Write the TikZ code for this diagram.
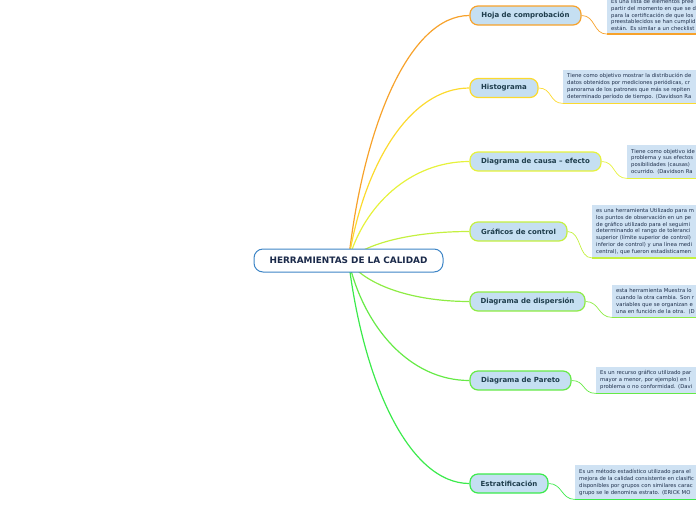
\documentclass[tikz,border=0pt]{standalone}
\usepackage{fontspec}
\setmainfont{DejaVu Sans}
\usetikzlibrary{backgrounds}
\definecolor{rootc}{HTML}{3D85C6}
\definecolor{navy}{HTML}{1B2A4A}
\definecolor{bfill}{HTML}{C5DFF2}
\definecolor{btext}{HTML}{1E3D4C}
\definecolor{dfill}{HTML}{CFE2F3}
\definecolor{dtext}{HTML}{1E2E4A}
\definecolor{c1}{HTML}{F7A22B}
\definecolor{c2}{HTML}{FCDA2E}
\definecolor{c3}{HTML}{E6F23C}
\definecolor{c4}{HTML}{C4F040}
\definecolor{c5}{HTML}{8EEC44}
\definecolor{c6}{HTML}{66EA46}
\definecolor{c7}{HTML}{3CEA4C}
\tikzset{
  rootbox/.style={draw=rootc, line width=1pt, fill=white, rounded corners=9pt,
    minimum width=189pt, minimum height=23pt, inner sep=0pt,
    font=\bfseries\fontsize{8.9}{10}\selectfont, text=navy},
  branch/.style={draw=#1, fill=bfill, line width=1.2pt, rounded corners=8pt,
    minimum height=19pt, inner sep=0pt,
    font=\bfseries\fontsize{7}{8}\selectfont, text=btext},
  desc/.style={fill=dfill, anchor=north west, align=left, text width=190pt,
    inner xsep=4pt, inner ysep=3pt, font=\fontsize{5.3}{6.9}\selectfont, text=dtext},
  mainedge/.style={draw=#1, line width=1.2pt},
  subedge/.style={draw=#1, line width=0.7pt},
  uline/.style={draw=#1, line width=1.6pt},
}
\begin{document}
\begin{tikzpicture}[x=1pt, y=-1pt]
\useasboundingbox (0,0) rectangle (696,520);
\clip (0,0) rectangle (696,520);

\node[rootbox] (root) at (348.5,260.5) {HERRAMIENTAS DE LA CALIDAD};

\node[branch=c1, minimum width=111pt] (b1) at (525.5,15.5) {Hoja de comprobación};
\node[branch=c2, minimum width=68pt] (b2) at (504,88) {Histograma};
\node[branch=c3, minimum width=131pt] (b3) at (535.5,161.5) {Diagrama de causa – efecto};
\node[branch=c4, minimum width=97pt] (b4) at (518.5,231.5) {Gráficos de control};
\node[branch=c5, minimum width=115pt] (b5) at (527.5,301.5) {Diagrama de dispersión};
\node[branch=c6, minimum width=101pt] (b6) at (520.5,380.5) {Diagrama de Pareto};
\node[branch=c7, minimum width=78pt] (b7) at (509,483.5) {Estratificación};

\node[desc, minimum height=37pt] (d1) at (607,-4) {Es una lista de elementos pree\\partir del momento en que se d\\para la certificación de que los\\preestablecidos se han cumplid\\están. Es similar a un checklist};
\node[desc, minimum height=33pt] (d2) at (563,70) {Tiene como objetivo mostrar la distribución de\\datos obtenidos por mediciones periódicas, cr\\panorama de los patrones que más se repiten\\determinado período de tiempo. (Davidson Ra};
\node[desc, minimum height=33pt] (d3) at (627,145) {Tiene como objetivo ide\\problema y sus efectos\\posibilidades (causas) \\ocurrido. (Davidson Ra};
\node[desc, minimum height=51pt] (d4) at (592,205) {es una herramienta Utilizado para m\\los puntos de observación en un pe\\de gráfico utilizado para el seguimi\\determinando el rango de toleranci\\superior (límite superior de control)\\inferior de control) y una línea medi\\central), que fueron estadísticamen};
\node[desc, minimum height=32pt] (d5) at (612,285) {esta herramienta Muestra lo\\cuando la otra cambia. Son r\\variables que se organizan e\\una en función de la otra.\ \ (D};
\node[desc, minimum height=26pt] (d6) at (596,367) {Es un recurso gráfico utilizado par\\mayor a menor, por ejemplo) en l\\problema o no conformidad. (Davi};
\node[desc, minimum height=34pt] (d7) at (575,465) {Es un método estadístico utilizado para el\\mejora de la calidad consistente en clasific\\disponibles por grupos con similares carac\\grupo se le denomina estrato. (ERICK MO};

\begin{scope}[on background layer]
\draw[mainedge=c1] (root.center) .. controls +(15,-135) and +(-60,0) .. (b1.west);
\draw[mainedge=c2] (root.center) .. controls +(15,-95) and +(-60,0) .. (b2.west);
\draw[mainedge=c3] (root.center) .. controls +(15,-54) and +(-60,0) .. (b3.west);
\draw[mainedge=c4] (root.center) .. controls +(15,-16) and +(-60,0) .. (b4.west);
\draw[mainedge=c5] (root.center) .. controls +(15,23) and +(-60,0) .. (b5.west);
\draw[mainedge=c6] (root.center) .. controls +(15,66) and +(-60,0) .. (b6.west);
\draw[mainedge=c7] (root.center) .. controls +(15,123) and +(-60,0) .. (b7.west);
\end{scope}

\draw[subedge=c1] (b1.east) .. controls +(14,0) and +(-14,0) .. (d1.south west);
\draw[subedge=c2] (b2.east) .. controls +(14,0) and +(-14,0) .. (d2.south west);
\draw[subedge=c3] (b3.east) .. controls +(14,0) and +(-14,0) .. (d3.south west);
\draw[subedge=c4] (b4.east) .. controls +(14,0) and +(-14,0) .. (d4.south west);
\draw[subedge=c5] (b5.east) .. controls +(14,0) and +(-14,0) .. (d5.south west);
\draw[subedge=c6] (b6.east) .. controls +(14,0) and +(-14,0) .. (d6.south west);
\draw[subedge=c7] (b7.east) .. controls +(14,0) and +(-14,0) .. (d7.south west);

\draw[uline=c1] (d1.south west) -- (d1.south east);
\draw[uline=c2] (d2.south west) -- (d2.south east);
\draw[uline=c3] (d3.south west) -- (d3.south east);
\draw[uline=c4] (d4.south west) -- (d4.south east);
\draw[uline=c5] (d5.south west) -- (d5.south east);
\draw[uline=c6] (d6.south west) -- (d6.south east);
\draw[uline=c7] (d7.south west) -- (d7.south east);
\end{tikzpicture}
\end{document}
